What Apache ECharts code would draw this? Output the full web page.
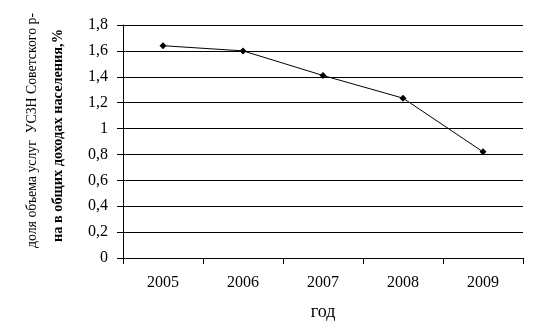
<!DOCTYPE html>
<html><head><meta charset="utf-8">
<script src="https://cdn.jsdelivr.net/npm/echarts@6/dist/echarts.min.js"></script>
<style>html,body{margin:0;padding:0;background:#fff}#c{width:540px;height:336px}</style>
</head><body><div id="c"></div>
<script>
const categories = ['2005','2006','2007','2008','2009'];
const values = [1.64, 1.60, 1.41, 1.235, 0.82];
const yTitle1 = 'доля объема услуг  УСЗН Советского р-';
const yTitle2 = 'на в общих доходах населения,%';
const xTitle = 'год';

const chart = echarts.init(document.getElementById('c'), null, {renderer:'canvas'});
const font = '"Liberation Serif", "Times New Roman", serif';
const f1 = '15px ' + font, f2 = 'bold 14px ' + font;
const ctx = document.createElement('canvas').getContext('2d');
function fitScale(text, f, target){ ctx.font = f; return target / ctx.measureText(text).width; }
const s1 = fitScale(yTitle1, f1, 235), s2 = fitScale(yTitle2, f2, 213);

chart.setOption({
  animation:false,
  backgroundColor:'#fff',
  grid:{left:123, right:17, top:25, bottom:78},
  xAxis:{
    type:'category', data:categories, boundaryGap:true,
    axisLine:{lineStyle:{color:'#000', width:1}},
    axisTick:{show:true, alignWithLabel:false, length:6, lineStyle:{color:'#000'}},
    axisLabel:{color:'#000', fontFamily:font, fontSize:16, margin:17},
    name:xTitle, nameLocation:'middle', nameGap:45,
    nameTextStyle:{color:'#000', fontFamily:font, fontSize:18}
  },
  yAxis:{
    type:'value', min:0, max:1.8, interval:0.2,
    axisLine:{show:true, lineStyle:{color:'#000', width:1}},
    axisTick:{show:true, length:6, lineStyle:{color:'#000'}},
    splitLine:{show:true, lineStyle:{color:'#000', width:1}},
    axisLabel:{color:'#000', fontFamily:font, fontSize:16, margin:15,
      formatter: v => (Math.round(v*10)/10).toString().replace('.', ',')}
  },
  graphic:[
    {type:'text', x:32, y:130.5, rotation:Math.PI/2, scaleX:s1, scaleY:1,
     style:{text:yTitle1, fill:'#000', font:f1, align:'center', verticalAlign:'middle'}},
    {type:'text', x:58, y:135.5, rotation:Math.PI/2, scaleX:s2, scaleY:1,
     style:{text:yTitle2, fill:'#000', font:f2, align:'center', verticalAlign:'middle'}}
  ],
  series:[{
    type:'line', data:values,
    symbol:'diamond', symbolSize:7,
    lineStyle:{color:'#000', width:1},
    itemStyle:{color:'#000'}
  }]
});
</script></body></html>
